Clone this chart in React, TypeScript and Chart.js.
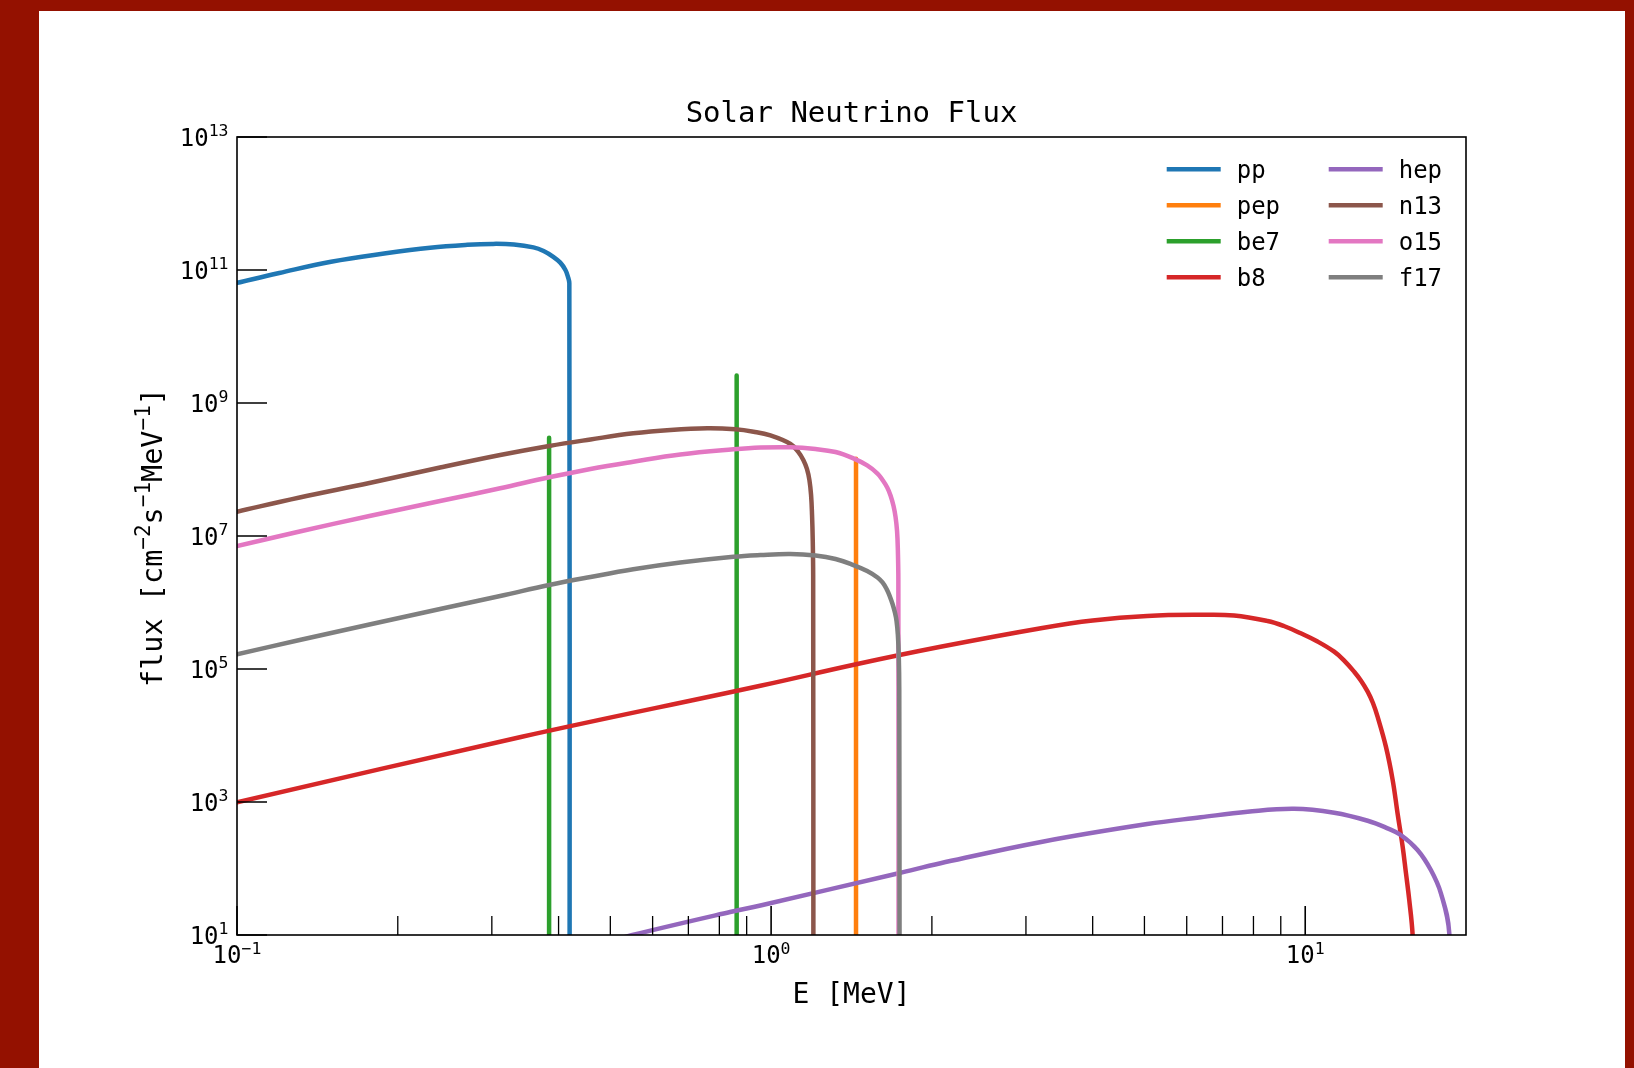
import React, { useEffect, useRef } from "react";
import { Chart, registerables } from "chart.js";

Chart.register(...registerables);

const FONT = '"DejaVu Sans Mono", monospace';

// ---------------- data (energy in MeV, flux in cm^-2 s^-1 MeV^-1) ----------------
const ppE = [0.1, 0.12, 0.15, 0.19, 0.23, 0.27, 0.3, 0.33, 0.359, 0.375, 0.391, 0.403, 0.412, 0.4165, 0.419, 0.4195];
const ppF = [6.4e10, 9.0e10, 1.33e11, 1.78e11, 2.16e11, 2.39e11, 2.47e11, 2.42e11, 2.19e11, 1.93e11, 1.58e11, 1.29e11, 1.0e11, 7.9e10, 6.3e10, 1];

const pepE = [1.442, 1.442];
const pepF = [1, 1.45e8];

const be7E = [0.384, 0.384, 0.6, 0.862, 0.862];
const be7F = [1, 3.0e8, null, 1, 2.6e9];

const b8E = [0.1, 0.34, 0.955, 1.443, 2.076, 3.22, 4.0, 5.06, 6.37, 7.36, 8.5, 9.12, 9.81, 10.545, 11.33, 11.83, 12.35, 12.71, 13.09, 13.39, 13.66, 14.16, 14.58, 14.89, 15.22, 15.44, 15.66, 15.89, 16.2];
const b8F = [986, 9.5e3, 5.6e4, 1.18e5, 2.16e5, 4.14e5, 5.36e5, 6.27e5, 6.53e5, 6.38e5, 5.27e5, 4.43e5, 3.44e5, 2.59e5, 1.82e5, 1.34e5, 9.1e4, 6.71e4, 4.56e4, 3.08e4, 1.92e4, 6.8e3, 2.14e3, 676, 213, 84.7, 33.6, 10, 0.3];

const hepE = [0.5, 0.55, 0.838, 0.955, 1.733, 2.076, 3.22, 5.06, 6.374, 7.8, 9.53, 11.33, 13.09, 14.26, 15.1, 16.23, 17.19, 17.95, 18.61, 18.77];
const hepF = [8.0, 10, 22.2, 27.8, 85, 120, 253, 466, 589, 714, 792, 690, 523, 402, 319, 190, 94.8, 42.4, 10.6, 0.1];

const n13E = [0.1, 0.131, 0.177, 0.24, 0.311, 0.384, 0.459, 0.552, 0.648, 0.76, 0.857, 0.927, 0.997, 1.087, 1.125, 1.149, 1.167, 1.1795, 1.188, 1.193, 1.1966, 1.1988, 1.2];
const n13F = [2.32e7, 3.79e7, 6.27e7, 1.07e8, 1.65e8, 2.26e8, 2.83e8, 3.5e8, 3.93e8, 4.16e8, 4.02e8, 3.7e8, 3.25e8, 2.42e8, 1.83e8, 1.39e8, 1.02e8, 6.95e7, 4.13e7, 2.07e7, 8.7e6, 2.59e6, 1];

const o15E = [0.1, 0.131, 0.177, 0.24, 0.311, 0.384, 0.459, 0.552, 0.676, 0.85, 0.955, 1.087, 1.211, 1.32, 1.426, 1.513, 1.582, 1.6165, 1.6497, 1.6733, 1.6952, 1.71, 1.7211, 1.7271, 1.7308, 1.7325];
const o15F = [7.07e6, 1.17e7, 2.0e7, 3.36e7, 5.22e7, 7.63e7, 1.02e8, 1.31e8, 1.68e8, 2.01e8, 2.14e8, 2.16e8, 2.03e8, 1.83e8, 1.47e8, 1.15e8, 8.7e7, 6.95e7, 5.36e7, 4.06e7, 2.83e7, 1.93e7, 1.19e7, 6.16e6, 2.18e6, 1];

const f17E = [0.1, 0.131, 0.177, 0.24, 0.311, 0.384, 0.459, 0.552, 0.676, 0.85, 0.955, 1.087, 1.211, 1.32, 1.426, 1.513, 1.582, 1.6165, 1.6447, 1.6661, 1.6879, 1.7062, 1.7172, 1.7271, 1.7338, 1.7376, 1.74];
const f17F = [1.66e5, 2.73e5, 4.67e5, 7.98e5, 1.25e6, 1.83e6, 2.42e6, 3.16e6, 3.99e6, 4.88e6, 5.18e6, 5.36e6, 5.09e6, 4.51e6, 3.66e6, 2.98e6, 2.38e6, 2.0e6, 1.6e6, 1.27e6, 9.49e5, 6.95e5, 5.27e5, 3.25e5, 1.62e5, 4.83e4, 1];

const seriesNames = ["pp", "pep", "be7", "b8", "hep", "n13", "o15", "f17"];
const seriesE = [ppE, pepE, be7E, b8E, hepE, n13E, o15E, f17E];
const seriesF = [ppF, pepF, be7F, b8F, hepF, n13F, o15F, f17F];
const seriesColors = ["#1f77b4", "#ff7f0e", "#2ca02c", "#d62728", "#9467bd", "#8c564b", "#e377c2", "#7f7f7f"];
const lineSeries = ["pep", "be7"];

// ---------------- axes ----------------
const xMin = 0.1;
const xMax = 20;
const yMin = 1e1;
const yMax = 1e13;
const xMajorTicks = [0.1, 1, 10];
const xMajorExponents = ["\u22121", "0", "1"];
const xMinorTicks = [0.2, 0.3, 0.4, 0.5, 0.6, 0.7, 0.8, 0.9, 2, 3, 4, 5, 6, 7, 8, 9];
const yMajorTicks = [1e1, 1e3, 1e5, 1e7, 1e9, 1e11, 1e13];
const yMajorExponents = ["1", "3", "5", "7", "9", "11", "13"];

const titleText = "Solar Neutrino Flux";
const xLabelText = "E [MeV]";
const yLabelParts = [
  { t: "flux [cm" },
  { t: "\u22122", s: true },
  { t: "s" },
  { t: "\u22121", s: true },
  { t: "MeV" },
  { t: "\u22121", s: true },
  { t: "]" },
];

type Part = { t: string; s?: boolean };

function drawRich(
  ctx: CanvasRenderingContext2D,
  parts: Part[],
  x: number,
  y: number,
  align: "left" | "center" | "right",
  baseSize: number,
  supSize: number,
  rise: number
) {
  const fb = `${baseSize}px ${FONT}`;
  const fs = `${supSize}px ${FONT}`;
  let total = 0;
  const widths = parts.map((p) => {
    ctx.font = p.s ? fs : fb;
    const w = ctx.measureText(p.t).width;
    total += w;
    return w;
  });
  let cx = align === "right" ? x - total : align === "center" ? x - total / 2 : x;
  ctx.textAlign = "left";
  ctx.textBaseline = "alphabetic";
  parts.forEach((p, i) => {
    ctx.font = p.s ? fs : fb;
    ctx.fillText(p.t, cx, p.s ? y - rise : y);
    cx += widths[i];
  });
}

const decorPlugin = {
  id: "decor",
  afterDatasetsDraw(chart: any) {
    const ctx: CanvasRenderingContext2D = chart.ctx;
    const a = chart.chartArea;
    const xs = chart.scales.x;
    const ys = chart.scales.y;
    ctx.save();
    ctx.strokeStyle = "#000";
    ctx.fillStyle = "#000";
    ctx.lineCap = "butt";

    // major ticks (inward)
    ctx.lineWidth = 1.6;
    ctx.beginPath();
    yMajorTicks.forEach((v) => {
      const py = ys.getPixelForValue(v);
      ctx.moveTo(a.left, py);
      ctx.lineTo(a.left + 30, py);
    });
    xMajorTicks.forEach((v) => {
      const px = xs.getPixelForValue(v);
      ctx.moveTo(px, a.bottom);
      ctx.lineTo(px, a.bottom - 29);
    });
    ctx.stroke();

    // minor ticks
    ctx.lineWidth = 1.3;
    ctx.beginPath();
    xMinorTicks.forEach((v) => {
      const px = xs.getPixelForValue(v);
      ctx.moveTo(px, a.bottom);
      ctx.lineTo(px, a.bottom - 19);
    });
    ctx.stroke();

    // frame
    ctx.lineWidth = 1.6;
    ctx.strokeRect(a.left, a.top, a.right - a.left, a.bottom - a.top);

    // tick labels
    yMajorTicks.forEach((v, i) => {
      const py = ys.getPixelForValue(v);
      drawRich(ctx, [{ t: "10" }, { t: yMajorExponents[i], s: true }], a.left - 8.5, py + 9, "right", 24, 16.5, 9.6);
    });
    xMajorTicks.forEach((v, i) => {
      const px = xs.getPixelForValue(v);
      drawRich(ctx, [{ t: "10" }, { t: xMajorExponents[i], s: true }], px, a.bottom + 28, "center", 24, 16.5, 9);
    });

    // title and axis labels
    const cxm = (a.left + a.right) / 2;
    ctx.font = `29px ${FONT}`;
    ctx.textAlign = "center";
    ctx.textBaseline = "alphabetic";
    ctx.fillText(titleText, cxm, a.top - 14.7);
    ctx.font = `28px ${FONT}`;
    ctx.fillText(xLabelText, cxm, a.bottom + 68.3);

    ctx.save();
    ctx.translate(a.left - 75.3, (a.top + a.bottom) / 2 + 1.5);
    ctx.rotate(-Math.PI / 2);
    drawRich(ctx, yLabelParts, 0, 0, "center", 28.5, 21, 11.7);
    ctx.restore();

    // legend (2 columns, column-major)
    chart.data.datasets.forEach((ds: any, i: number) => {
      const col = Math.floor(i / 4);
      const row = i % 4;
      const hx = col === 0 ? a.right - 299.3 : a.right - 137.3;
      const hy = a.top + 32.3 + row * 36;
      ctx.strokeStyle = ds.borderColor;
      ctx.lineWidth = 4.5;
      ctx.lineCap = "butt";
      ctx.beginPath();
      ctx.moveTo(hx, hy);
      ctx.lineTo(hx + 54, hy);
      ctx.stroke();
      ctx.fillStyle = "#000";
      ctx.font = `24px ${FONT}`;
      ctx.textAlign = "left";
      ctx.textBaseline = "alphabetic";
      ctx.fillText(ds.label, hx + 70, hy + 9);
    });

    ctx.restore();
  },
};

export default function App() {
  const canvasRef = useRef<HTMLCanvasElement | null>(null);

  useEffect(() => {
    const canvas = canvasRef.current;
    if (!canvas) return;
    const datasets = seriesNames.map((name, i) => ({
      label: name,
      data: seriesE[i].map((e, j) => ({ x: e, y: seriesF[i][j] })),
      borderColor: seriesColors[i],
      backgroundColor: seriesColors[i],
      borderWidth: 4.5,
      pointRadius: 0,
      pointHoverRadius: 0,
      fill: false,
      tension: lineSeries.includes(name) ? 0 : 0.4,
      cubicInterpolationMode: "default",
      borderCapStyle: "round",
      borderJoinStyle: "round",
      spanGaps: false,
      clip: 0,
      order: seriesNames.length - i,
    }));

    const chart = new Chart(canvas, {
      type: "line",
      data: { datasets } as any,
      options: {
        responsive: false,
        animation: false,
        devicePixelRatio: 1,
        events: [],
        layout: { padding: { left: 237, top: 137, right: 168, bottom: 133 } },
        scales: {
          x: { type: "logarithmic", min: xMin, max: xMax, display: false },
          y: { type: "logarithmic", min: yMin, max: yMax, display: false },
        },
        plugins: {
          legend: { display: false },
          title: { display: false },
          tooltip: { enabled: false },
        },
      } as any,
      plugins: [decorPlugin],
    });
    return () => chart.destroy();
  }, []);

  return (
    <div
      style={{
        position: "fixed",
        left: 0,
        top: 0,
        width: 1634,
        height: 1068,
        background: "#941100",
        overflow: "hidden",
      }}
    >
      <div
        style={{
          position: "absolute",
          left: 39,
          top: 11,
          width: 1586,
          height: 1057,
          background: "#ffffff",
        }}
      />
      <canvas
        ref={canvasRef}
        width={1634}
        height={1068}
        style={{ position: "absolute", left: 0, top: 0, width: 1634, height: 1068 }}
      />
    </div>
  );
}
